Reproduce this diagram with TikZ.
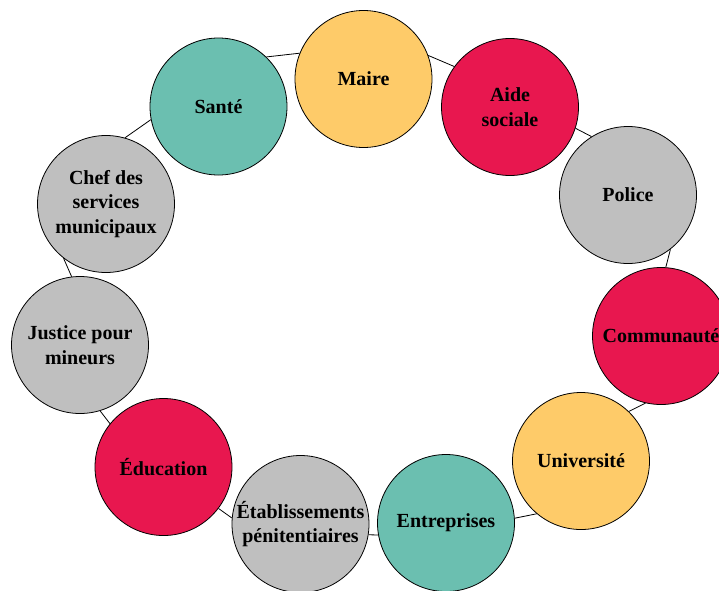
\documentclass[tikz,border=0pt]{standalone}
\usepackage{fontspec}
\setmainfont{Liberation Serif}
\definecolor{vert}{HTML}{6BBFB0}
\definecolor{jaune}{HTML}{FECB69}
\definecolor{rouge}{HTML}{E8174F}
\definecolor{gris}{HTML}{BFBFBF}
\begin{document}
\begin{tikzpicture}[x=1pt,y=-1pt,
	bulle/.style={circle,draw=black,line width=.8pt,minimum size=137pt,inner sep=0pt,align=center,font=\fontsize{20}{24.5}\selectfont\bfseries},
	lien/.style={line width=.8pt}]

	\useasboundingbox (0,0) rectangle (719,590);

	\node[bulle,fill=jaune] (maire) at (363.5,79) {Maire};

	\node[bulle,fill=rouge] (aide) at (510,107) {Aide\\sociale};

	\node[bulle,fill=gris] (police) at (628,195) {Police};

	\node[bulle,fill=rouge] (communaute) at (661,336) {Communauté};

	\node[bulle,fill=jaune] (universite) at (581,461) {Université};

	\node[bulle,fill=vert] (entreprises) at (446,523) {Entreprises};

	\node[bulle,fill=gris] (etab) at (300.5,524) {Établissements\\pénitentiaires};

	\node[bulle,fill=rouge] (education) at (163.5,467) {Éducation};

	\node[bulle,fill=gris] (justice) at (80,345) {Justice pour\\mineurs};

	\node[bulle,fill=gris] (chef) at (106,204) {Chef des\\services\\municipaux};

	\node[bulle,fill=vert] (sante) at (218.5,106.5) {Santé};

	\draw[lien] (sante.46) -- (maire.158);
	\draw[lien] (maire.20) -- (aide.144);
	\draw[lien] (aide.-18) -- (police.122);
	\draw[lien] (police.-52) -- (communaute.86);
	\draw[lien] (communaute.257) -- (universite.46);
	\draw[lien] (universite.230) -- (entreprises.4);
	\draw[lien] (entreprises.190) -- (etab.-9);
	\draw[lien] (etab.175) -- (education.-37);
	\draw[lien] (education.141) -- (justice.-73);
	\draw[lien] (justice.97) -- (chef.232);
	\draw[lien] (chef.74) -- (sante.191);
\end{tikzpicture}
\end{document}
